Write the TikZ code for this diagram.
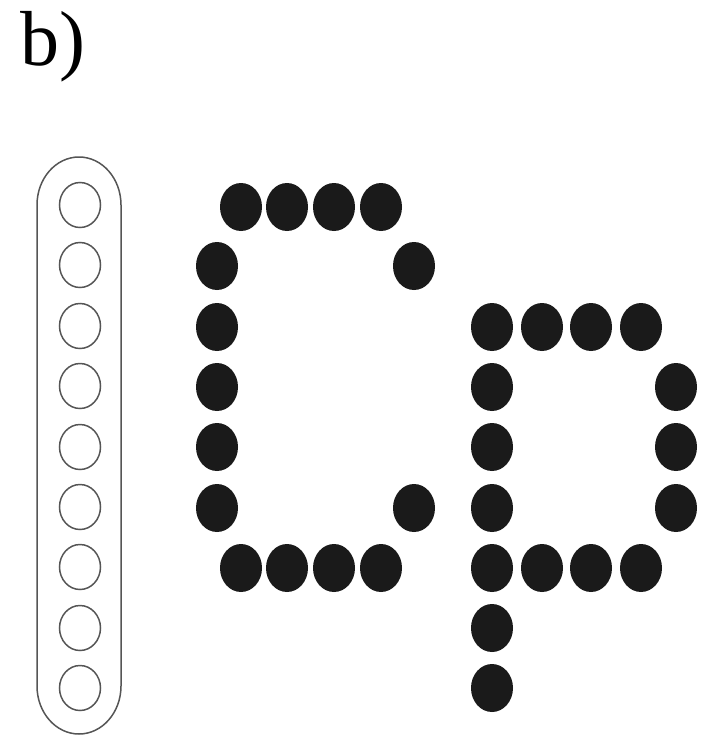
\documentclass[tikz,border=0pt]{standalone}
\usepackage{fontspec}
\setmainfont{Liberation Serif}
\usetikzlibrary{shapes.geometric}
\definecolor{dotfill}{HTML}{1A1A1A}
\definecolor{ringcol}{HTML}{555555}
\begin{document}
\begin{tikzpicture}[x=1pt,y=1pt,
  blackdot/.style={ellipse,fill=dotfill,draw=none,minimum width=42pt,minimum height=48pt,inner sep=0pt},
  ring/.style={ellipse,draw=ringcol,line width=1.5pt,fill=none,minimum width=41pt,minimum height=45pt,inner sep=0pt},
  capsule/.style={draw=ringcol,line width=1.5pt}]
\useasboundingbox (0,0) rectangle (708,-739);
% label
\node[anchor=base west,inner sep=0pt,font=\fontsize{78}{78}\selectfont] (lbl) at (20,-65) {b)};
% capsule
\draw[capsule] (37,-686) arc (180:360:42pt and 48pt) -- (121,-205) arc (0:180:42pt and 48pt) -- cycle;
% rings
\foreach \i/\y in {1/205,2/265,3/326,4/386,5/447,6/507,7/567,8/628,9/688}
  \node[ring] (r\i) at (80,-\y) {};
% letter C
\foreach \i/\x in {1/241,2/287,3/334,4/381}
  \node[blackdot] (ct\i) at (\x,-207) {};
\foreach \i/\y in {1/266,2/327,3/387,4/447,5/508}
  \node[blackdot] (cl\i) at (217,-\y) {};
\node[blackdot] (cr1) at (414,-266) {};
\node[blackdot] (cr2) at (414,-508) {};
\foreach \i/\x in {1/241,2/287,3/334,4/381}
  \node[blackdot] (cb\i) at (\x,-568) {};
% letter p
\foreach \i/\x in {1/492,2/542,3/591,4/641}
  \node[blackdot] (pt\i) at (\x,-327) {};
\foreach \i/\y in {1/387,2/447,3/508,4/568,5/628,6/688}
  \node[blackdot] (pl\i) at (492,-\y) {};
\foreach \i/\y in {1/387,2/447,3/508}
  \node[blackdot] (pr\i) at (676,-\y) {};
\foreach \i/\x in {1/542,2/591,3/641}
  \node[blackdot] (pb\i) at (\x,-568) {};
\end{tikzpicture}
\end{document}
